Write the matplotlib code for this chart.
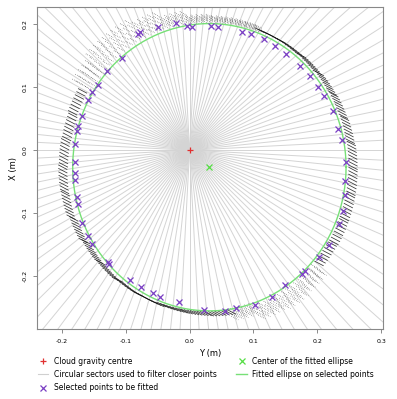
## ============================================================
## Ellipse fitting on a point cloud slice (sector filter)
## ============================================================
import numpy as np
import matplotlib
matplotlib.use("Agg")
import matplotlib.pyplot as plt
from matplotlib.collections import LineCollection
from matplotlib.lines import Line2D

## ------------------------------------------------------------
## Data
## ------------------------------------------------------------
gravity_centre = (0.0, 0.0)
n_sectors = 120

# selected points (Y, X) in m
sel_y = [-0.080, -0.078, -0.049, -0.021, -0.004, 0.004, 0.034, 0.045, 0.082, 0.096,
         0.117, 0.134, 0.151, 0.173, 0.188, 0.201, 0.210, 0.224, 0.233, 0.239,
         0.245, 0.243, 0.243, 0.240, 0.234, 0.218, 0.203, 0.176, 0.181, 0.150,
         0.129, 0.103, 0.072, 0.055, 0.022, -0.017, -0.046, -0.058, -0.076, -0.094,
         -0.128, -0.126, -0.153, -0.159, -0.169, -0.174, -0.177, -0.179, -0.179, -0.180,
         -0.179, -0.176, -0.175, -0.168, -0.159, -0.152, -0.143, -0.129, -0.106]
sel_x = [0.184, 0.188, 0.196, 0.202, 0.197, 0.195, 0.197, 0.196, 0.188, 0.185,
         0.176, 0.166, 0.153, 0.133, 0.118, 0.101, 0.086, 0.063, 0.034, 0.016,
         -0.018, -0.049, -0.071, -0.096, -0.117, -0.150, -0.170, -0.196, -0.192, -0.214,
         -0.233, -0.245, -0.250, -0.255, -0.253, -0.241, -0.233, -0.226, -0.217, -0.206,
         -0.177, -0.180, -0.149, -0.136, -0.115, -0.085, -0.074, -0.048, -0.036, -0.019,
         0.010, 0.030, 0.038, 0.054, 0.079, 0.092, 0.103, 0.125, 0.146]

# fitted ellipse
ell_centre = (0.031, -0.027)
ell_a = 0.214
ell_b = 0.228

# band of raw cloud points around the ellipse, per 10 deg bin (offsets outward, m)
band_start  = np.arange(0, 360, 10)
band_inner  = [0.000, 0.000, 0.000, 0.000, 0.000, 0.000, 0.000, 0.002, 0.002,
               0.002, 0.004, 0.005, 0.005, 0.005, 0.005, 0.005, 0.003, 0.003,
               0.004, 0.004, 0.002, 0.000, 0.000, -0.002, -0.003, -0.004, -0.004,
               -0.003, 0.000, 0.005, 0.005, 0.004, 0.000, 0.000, 0.000, 0.000]
band_outer  = [0.022, 0.020, 0.018, 0.016, 0.013, 0.011, 0.010, 0.010, 0.010,
               0.012, 0.020, 0.030, 0.038, 0.038, 0.032, 0.025, 0.024, 0.026,
               0.027, 0.026, 0.022, 0.018, 0.016, 0.014, 0.013, 0.012, 0.012,
               0.012, 0.015, 0.025, 0.028, 0.025, 0.020, 0.022, 0.022, 0.022]
band_sparse = [0, 0, 0, 0, 0, 0, 0, 1, 1,
               1, 1, 1, 1, 1, 1, 0, 0, 0,
               0, 0, 0, 0, 0, 0, 0, 0, 0,
               0, 1, 1, 1, 1, 0, 0, 0, 0]

## ------------------------------------------------------------
## Figure
## ------------------------------------------------------------
fig = plt.figure(figsize=(3.97, 3.99), dpi=100)
ax = fig.add_axes([0.093, 0.175, 0.872, 0.807])

# circular sectors
ang = np.linspace(0, 2*np.pi, n_sectors, endpoint=False)
sect = [[gravity_centre, (np.cos(t), np.sin(t))] for t in ang]
ax.add_collection(LineCollection(sect, colors='#d4d4d4', linewidths=0.7, zorder=1))

# raw points (short scan strokes)
d = np.array([np.cos(np.radians(-28)), np.sin(np.radians(-28))])
dense_segs, sparse_segs = [], []
for i, a0 in enumerate(band_start):
    step = 2.0 if band_sparse[i] else 1.3
    for t in np.arange(a0, a0 + 10, step):
        tr = np.radians(t)
        p = np.array([ell_centre[0] + ell_a*np.cos(tr), ell_centre[1] + ell_b*np.sin(tr)])
        n = np.array([np.cos(tr)/ell_a, np.sin(tr)/ell_b])
        n = n / np.linalg.norm(n)
        w = band_outer[i] - band_inner[i]
        if band_sparse[i]:
            for f in (0.15, 0.45, 0.75, 1.0):
                c = p + n*(band_inner[i] + f*w)
                sparse_segs.append([c - d*0.006, c + d*0.006])
        else:
            c = p + n*(band_inner[i] + w/2)
            L = min(max(w / max(abs(d @ n), 0.5), 0.006), 0.016)
            dense_segs.append([c - d*L/2, c + d*L/2])
ax.add_collection(LineCollection(dense_segs, colors='#111111', linewidths=0.55,
                                 alpha=0.85, zorder=2))
ax.add_collection(LineCollection(sparse_segs, colors='#222222', linewidths=0.6,
                                 linestyles=(0, (0.6, 1.6)), alpha=0.9, zorder=2))

# fitted ellipse
tt = np.linspace(0, 2*np.pi, 400)
ax.plot(ell_centre[0] + ell_a*np.cos(tt), ell_centre[1] + ell_b*np.sin(tt),
        color='#77e077', lw=1.0, zorder=3)

# selected points, centres
ax.plot(sel_y, sel_x, 'x', color='#7a3fc4', ms=4, mew=0.9, ls='none', zorder=4)
ax.plot(*gravity_centre, '+', color='#e03030', ms=5, mew=0.9, zorder=5)
ax.plot(*ell_centre, 'x', color='#55dd44', ms=4, mew=0.9, zorder=5)

## ------------------------------------------------------------
## Axes
## ------------------------------------------------------------
ax.set_xlim(-0.239, 0.303)
ax.set_ylim(-0.284, 0.227)
ax.set_xticks([-0.2, -0.1, 0.0, 0.1, 0.2, 0.3])
ax.set_xticklabels(['-0.2', '-0.1', '0.0', '0.1', '0.2', '0.3'])
ax.set_yticks([-0.2, -0.1, 0.0, 0.1, 0.2])
ax.set_yticklabels(['-0.2', '-0.1', '0.0', '0.1', '0.2'], rotation=90, va='center')
ax.tick_params(labelsize=4.5, length=3, width=0.6, color='#777777', pad=4)
for s in ax.spines.values():
    s.set_color('#888888')
    s.set_linewidth(0.8)
ax.set_xlabel('Y (m)', fontsize=6, labelpad=4)
ax.set_ylabel('X (m)', fontsize=6, labelpad=3)

## ------------------------------------------------------------
## Legend
## ------------------------------------------------------------
handles = [
    Line2D([], [], marker='+', color='#e03030', ls='none', ms=5, mew=0.9),
    Line2D([], [], color='#d0d0d0', lw=0.8),
    Line2D([], [], marker='x', color='#7a3fc4', ls='none', ms=4, mew=0.9),
    Line2D([], [], marker='x', color='#55dd44', ls='none', ms=4, mew=0.9),
    Line2D([], [], color='#77e077', lw=1.0),
]
labels = ['Cloud gravity centre', 'Circular sectors used to filter closer points',
          'Selected points to be fitted', 'Center of the fitted ellipse',
          'Fitted ellipse on selected points']
fig.legend(handles, labels, loc='upper left', bbox_to_anchor=(0.085, 0.115), ncol=2,
           frameon=False, fontsize=5.5, handlelength=1.4, handletextpad=0.7,
           columnspacing=2.6, labelspacing=0.55, borderpad=0)

fig.savefig('out.png', dpi=100)
